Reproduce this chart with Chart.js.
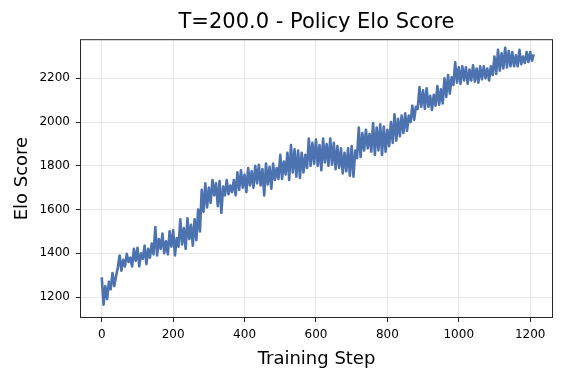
<!DOCTYPE html>
<html>
<head>
<meta charset="utf-8">
<script src="https://cdn.jsdelivr.net/npm/chart.js@4.4.1/dist/chart.umd.min.js"></script>
<style>
    body { margin: 0; background: #ffffff; }
    #wrap { width: 566px; height: 378px; }
</style>
</head>
<body>
<div id="wrap"><canvas id="eloChart" width="566" height="378"></canvas></div>
<script>
// Data, one value every 5 training steps
const STEP_SIZE = 5;
const eloScores = [
    1290, 1165, 1250, 1190, 1270, 1235, 1310, 1250, 1295, 1335,
    1390, 1320, 1370, 1340, 1398, 1360, 1380, 1340, 1420, 1365,
    1425, 1340, 1400, 1375, 1435, 1350, 1420, 1380, 1445, 1395,
    1520, 1390, 1465, 1420, 1490, 1400, 1455, 1395, 1500, 1430,
    1505, 1390, 1470, 1430, 1555, 1440, 1515, 1420, 1560, 1465,
    1530, 1435, 1555, 1460, 1600, 1500, 1690, 1590, 1720, 1610,
    1700, 1630, 1735, 1665, 1720, 1615, 1730, 1585, 1705, 1665,
    1735, 1670, 1710, 1680, 1735, 1665, 1770, 1690, 1780, 1700,
    1760, 1680, 1790, 1710, 1775, 1700, 1800, 1720, 1805, 1710,
    1785, 1665, 1810, 1715, 1795, 1695, 1810, 1735, 1790, 1740,
    1850, 1740, 1820, 1760, 1860, 1735, 1895, 1770, 1875, 1750,
    1870, 1745, 1860, 1770, 1850, 1790, 1925, 1800, 1905, 1810,
    1920, 1800, 1895, 1780, 1925, 1815, 1900, 1800, 1925, 1805,
    1905, 1785, 1890, 1790, 1880, 1765, 1860, 1775, 1880, 1755,
    1890, 1750, 1870, 1835, 1975, 1840, 1950, 1870, 1965, 1880,
    1945, 1865, 1995, 1850, 1975, 1870, 1990, 1850, 1980, 1865,
    1965, 1890, 2000, 1905, 2035, 1915, 2015, 1935, 2030, 1950,
    2040, 1960, 2030, 2000, 2075, 2010, 2070, 2060, 2160, 2070,
    2145, 2060, 2155, 2070, 2120, 2055, 2125, 2075, 2165, 2080,
    2150, 2085, 2200, 2115, 2215, 2130, 2205, 2170, 2273, 2180,
    2250, 2175, 2255, 2190, 2250, 2175, 2240, 2190, 2260, 2185,
    2245, 2180, 2255, 2195, 2255, 2200, 2245, 2190, 2255, 2215,
    2300, 2220, 2330, 2235, 2315, 2245, 2340, 2250, 2325, 2255,
    2320, 2255, 2305, 2255, 2330, 2265, 2300, 2270, 2320, 2275,
    2320, 2280, 2310
];
const trainingSteps = eloScores.map((_, i) => i * STEP_SIZE);

const xTicks = [0, 200, 400, 600, 800, 1000, 1200];
const yTicks = [1200, 1400, 1600, 1800, 2000, 2200];

const FONT = "'DejaVu Sans', sans-serif";
const INK = '#000000';
const SPINE = '#262626';

// matplotlib-style box around the plot area
const frameBox = {
    id: 'frameBox',
    afterDraw(chart) {
        const { ctx, chartArea: a } = chart;
        ctx.save();
        ctx.strokeStyle = SPINE;
        ctx.lineWidth = 1;
        ctx.strokeRect(a.left + 0.5, a.top + 0.5, a.right - a.left - 1, a.bottom - a.top - 1);
        ctx.restore();
    }
};

const ctx = document.getElementById('eloChart');

new Chart(ctx, {
    type: 'line',
    data: {
        datasets: [{
            label: 'Elo Score',
            data: trainingSteps.map((s, i) => ({ x: s, y: eloScores[i] })),
            borderColor: '#4c72b0',
            borderWidth: 2.6,
            borderJoinStyle: 'round',
            pointRadius: 0,
            tension: 0,
            fill: false
        }]
    },
    options: {
        responsive: false,
        animation: false,
        layout: { padding: { left: 0, right: 13, top: 0, bottom: 0 } },
        plugins: {
            legend: { display: false },
            tooltip: { enabled: false },
            title: {
                display: true,
                fullSize: false,
                text: 'T=200.0 - Policy Elo Score',
                color: INK,
                font: { family: FONT, size: 21, weight: 'normal' },
                padding: { top: 10, bottom: 4 }
            }
        },
        scales: {
            x: {
                type: 'linear',
                min: -61,
                max: 1264,
                afterBuildTicks: scale => { scale.ticks = xTicks.map(v => ({ value: v })); },
                afterFit: scale => { scale.height = 60; },
                grid: { color: '#e8e8e8', lineWidth: 1, tickColor: SPINE, tickLength: 4 },
                border: { display: false },
                ticks: {
                    color: INK,
                    font: { family: FONT, size: 12 },
                    padding: 6,
                    maxRotation: 0,
                    callback: v => String(v)
                },
                title: {
                    display: true,
                    text: 'Training Step',
                    color: INK,
                    font: { family: FONT, size: 18 },
                    padding: { top: 0, bottom: 8 }
                }
            },
            y: {
                type: 'linear',
                min: 1104,
                max: 2379,
                afterBuildTicks: scale => { scale.ticks = yTicks.map(v => ({ value: v })); },
                afterFit: scale => { scale.width = 80; },
                grid: { color: '#e8e8e8', lineWidth: 1, tickColor: SPINE, tickLength: 4 },
                border: { display: false },
                ticks: {
                    color: INK,
                    font: { family: FONT, size: 12 },
                    padding: 6,
                    callback: v => String(v)
                },
                title: {
                    display: true,
                    text: 'Elo Score',
                    color: INK,
                    font: { family: FONT, size: 18 },
                    padding: { top: 12, bottom: 0 }
                }
            }
        }
    },
    plugins: [frameBox]
});
</script>
</body>
</html>
